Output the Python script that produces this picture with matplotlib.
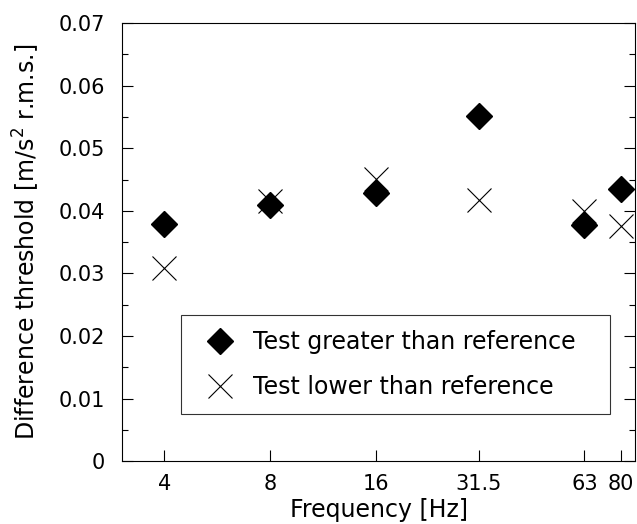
import matplotlib
matplotlib.use("Agg")
import matplotlib.pyplot as plt
from matplotlib.ticker import FixedLocator, NullLocator, MultipleLocator

plt.rcParams['font.family'] = ['DejaVu Sans']

freqs = [4, 8, 16, 31.5, 63, 80]
freq_labels = ['4', '8', '16', '31.5', '63', '80']
greater = [0.0379, 0.0409, 0.0429, 0.0551, 0.0377, 0.0435]
lower = [0.0309, 0.0416, 0.0451, 0.0417, 0.0400, 0.0376]
ytick_vals = [0, 0.01, 0.02, 0.03, 0.04, 0.05, 0.06, 0.07]
ytick_labels = ['0', '0.01', '0.02', '0.03', '0.04', '0.05', '0.06', '0.07']

fig = plt.figure(figsize=(6.37, 5.24), dpi=100)
ax = fig.add_axes([0.1915, 0.12, 0.806, 0.836])

ax.plot(freqs, greater, linestyle='none', marker='D', markersize=13,
        color='black', label='Test greater than reference')
ax.plot(freqs, lower, linestyle='none', marker='x', markersize=17,
        markeredgewidth=0.8, color='black', label='Test lower than reference')

ax.set_xscale('log')
ax.set_xlim(3.03, 88)
ax.set_ylim(0, 0.07)
ax.xaxis.set_major_locator(FixedLocator(freqs))
ax.xaxis.set_minor_locator(NullLocator())
ax.set_xticklabels(freq_labels)
ax.set_yticks(ytick_vals)
ax.set_yticklabels(ytick_labels)
ax.yaxis.set_minor_locator(MultipleLocator(0.005))

ax.tick_params(axis='both', which='both', direction='in', labelsize=15, width=0.8)
ax.tick_params(axis='x', which='major', length=8, pad=9)
ax.tick_params(axis='y', which='major', length=8, right=True, pad=12)
ax.tick_params(axis='y', which='minor', length=4, right=True)
for s in ax.spines.values():
    s.set_linewidth(0.8)

ax.set_xlabel('Frequency [Hz]', fontsize=17, labelpad=3)
ax.set_ylabel('Difference threshold [m/s$^2$ r.m.s.]', fontsize=17, labelpad=12)

leg = ax.legend(loc='lower left', bbox_to_anchor=(0.115, 0.107, 0.835, 0.217),
                mode='expand', fontsize=17, frameon=True, fancybox=False,
                edgecolor='black', handletextpad=0.42, borderpad=0.63,
                labelspacing=0.9, borderaxespad=0)
leg.get_frame().set_linewidth(0.8)

fig.savefig('out.png', dpi=100)
